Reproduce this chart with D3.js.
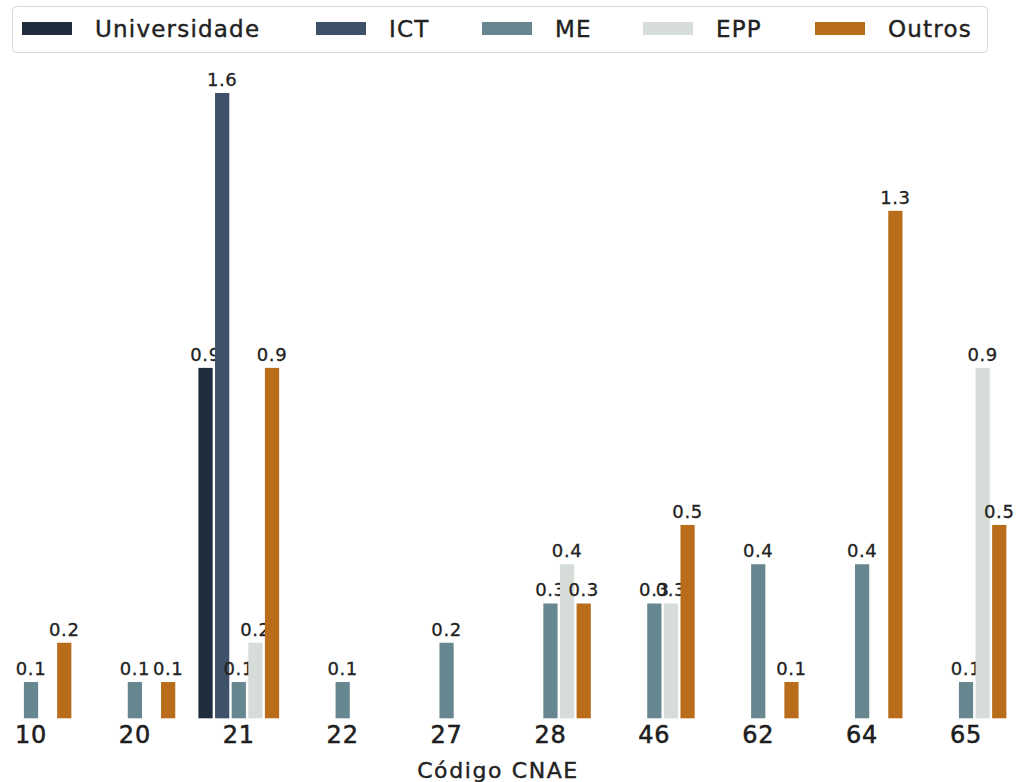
<!DOCTYPE html>
<html><head><meta charset="utf-8">
<script src="https://cdn.jsdelivr.net/npm/d3@7"></script>
<style>body{margin:0;background:#fff}svg{display:block}text{font-family:"DejaVu Sans",sans-serif;fill:#222}</style>
</head><body>
<svg id="c" width="1018" height="782"></svg>
<script>
const categories = ["10","20","21","22","27","28","46","62","64","65"];
const seriesNames = ["Universidade","ICT","ME","EPP","Outros"];
const universidade = [0,0,0.9,0,0,0,0,0,0,0];
const ict          = [0,0,1.6,0,0,0,0,0,0,0];
const me           = [0.1,0.1,0.1,0.1,0.2,0.3,0.3,0.4,0.4,0.1];
const epp          = [0,0,0.2,0,0,0.4,0.3,0,0,0.9];
const outros       = [0.2,0.1,0.9,0,0,0.3,0.5,0.1,1.3,0.5];
const colors = ["#1f2c3b","#3e5169","#66878f","#d6ddd9","#b96d1b"];
const seriesVals = [universidade, ict, me, epp, outros];

const svg = d3.select("#c");
const step = 103.9;
const x = d3.scaleBand().domain(categories).range([31 - step/2, 966 + step/2]).paddingInner(0).paddingOuter(0);
const inner = d3.scaleBand().domain(seriesNames).range([step*0.1, step*0.9]);
const y = d3.scaleLinear().domain([0, 1.6]).range([721.3, 93]);
const edge = 3;

const g = svg.append("g");
categories.forEach((c, ci) => {
  seriesNames.forEach((s, si) => {
    const v = seriesVals[si][ci];
    if (!v) return;
    const bx = x(c) + inner(s);
    g.append("rect")
      .attr("x", bx + 1.2).attr("y", y(v))
      .attr("width", inner.bandwidth() - 2.4).attr("height", y(0) - edge - y(v))
      .attr("fill", colors[si]);
    g.append("text")
      .attr("x", bx + inner.bandwidth()/2).attr("y", y(v) - 7)
      .attr("text-anchor", "middle").attr("font-size", 18)
      .attr("letter-spacing", 0.6)
      .attr("stroke", "#222").attr("stroke-width", 0.3)
      .text(v.toFixed(1));
  });
});

const xAxis = d3.axisBottom(x).tickSize(0).tickPadding(0);
const ax = svg.append("g").attr("transform", "translate(0,721)").call(xAxis);
ax.select(".domain").remove();
ax.selectAll("text").attr("font-size", 24).attr("dy", "0.92em")
  .attr("letter-spacing", 0.8)
  .style("font-family", '"DejaVu Sans",sans-serif').attr("fill", "#111")
  .attr("stroke", "#111").attr("stroke-width", 0.5);

svg.append("text").attr("x", 498).attr("y", 778).attr("text-anchor", "middle")
  .attr("font-size", 22).attr("letter-spacing", 1.6)
  .attr("stroke", "#222").attr("stroke-width", 0.4)
  .text("Código CNAE");

// legend
const lg = svg.append("g");
lg.append("rect").attr("x", 12.5).attr("y", 6.5).attr("width", 975).attr("height", 46)
  .attr("rx", 4).attr("fill", "#fff").attr("stroke", "#d8d8d8").attr("stroke-width", 1);
const legX = [22, 316, 482, 643, 815];
seriesNames.forEach((s, i) => {
  lg.append("rect").attr("x", legX[i]).attr("y", 22).attr("width", 50).attr("height", 13).attr("fill", colors[i]);
  lg.append("text").attr("x", legX[i] + 73).attr("y", 37).attr("font-size", 23)
    .attr("letter-spacing", 1.2)
    .attr("stroke", "#222").attr("stroke-width", 0.4)
    .text(s);
});
</script>
</body></html>
